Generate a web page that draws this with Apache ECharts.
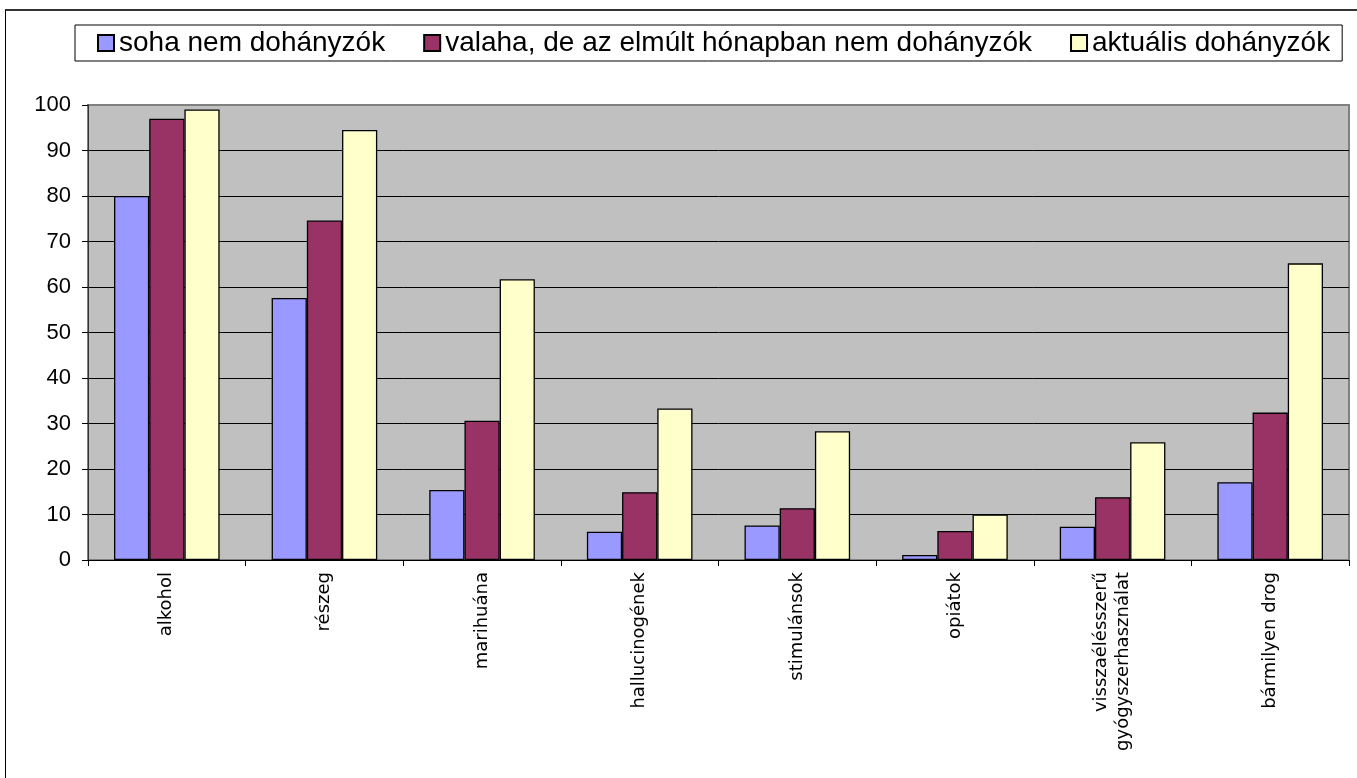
<!DOCTYPE html>
<html>
<head>
<meta charset="utf-8">
<script src="https://cdn.jsdelivr.net/npm/echarts@6/dist/echarts.min.js"></script>
<style>
  body { margin: 0; background: #fff; }
  .chart-wrap { position: relative; width: 1357px; height: 778px; }
  #chart { width: 1357px; height: 778px; }
  .frame {
    position: absolute; left: 5px; top: 9px; right: 0; bottom: 0;
    border-top: 2px solid #333; border-left: 1px solid #000;
    pointer-events: none;
  }
</style>
</head>
<body>
<div class="chart-wrap">
  <div id="chart"></div>
  <div class="frame"></div>
</div>
<script>
// categories and values
var categories = ['alkohol', 'részeg', 'marihuána', 'hallucinogének', 'stimulánsok', 'opiátok', 'visszaélésszerű\ngyógyszerhasználat', 'bármilyen drog']
var seriesNames = ['soha nem dohányzók', 'valaha, de az elmúlt hónapban nem dohányzók', 'aktuális dohányzók']
var neverSmoked = [80, 57.6, 15.4, 6.2, 7.6, 1.1, 7.3, 17.1]
var formerSmoked = [97, 74.6, 30.6, 14.9, 11.4, 6.4, 13.8, 32.4]
var currentSmokers = [99, 94.5, 61.7, 33.3, 28.3, 10, 25.9, 65.2]
var yTicks = [0, 10, 20, 30, 40, 50, 60, 70, 80, 90, 100]

var colors = ['#9999FF', '#993366', '#FFFFCC']

var options = {
  animation: false,
  color: colors,
  legend: {
    left: 75,
    top: 25,
    padding: [4, 12, 4, 22],
    borderColor: '#000',
    borderWidth: 1,
    itemWidth: 16,
    itemHeight: 16,
    itemGap: 38,
    icon: 'rect',
    textStyle: {
      color: '#000',
      fontSize: 28,
      fontFamily: 'Liberation Sans'
    },
    data: seriesNames
  },
  grid: {
    left: 88,
    right: 8,
    top: 105,
    bottom: 218,
    show: true,
    backgroundColor: '#C0C0C0',
    borderColor: '#808080',
    borderWidth: 2
  },
  xAxis: {
    type: 'category',
    data: categories,
    axisLine: {
      lineStyle: { color: '#000', width: 1 }
    },
    axisTick: {
      show: true,
      length: 6,
      lineStyle: { color: '#000' }
    },
    axisLabel: {
      rotate: 90,
      margin: 12,
      interval: 0,
      color: '#000',
      fontSize: 18,
      lineHeight: 22,
      fontFamily: 'DejaVu Sans'
    }
  },
  yAxis: {
    type: 'value',
    min: yTicks[0],
    max: yTicks[yTicks.length - 1],
    interval: 10,
    axisLine: {
      show: true,
      lineStyle: { color: '#333' }
    },
    axisTick: {
      show: true,
      length: 6,
      lineStyle: { color: '#000' }
    },
    axisLabel: {
      margin: 17,
      color: '#000',
      fontSize: 22,
      fontFamily: 'Liberation Sans'
    },
    splitLine: {
      showMinLine: false,
      showMaxLine: false,
      lineStyle: { color: '#000', width: 1 }
    }
  }
}

function makeBar (name, values) {
  return {
    name: name,
    type: 'bar',
    data: values,
    barGap: '0%',
    barCategoryGap: '33%',
    itemStyle: {
      borderColor: '#000',
      borderWidth: 1.3
    }
  }
}

var myChart = echarts.init(document.getElementById('chart'))
options.series = [
  makeBar(seriesNames[0], neverSmoked),
  makeBar(seriesNames[1], formerSmoked),
  makeBar(seriesNames[2], currentSmokers)
]
myChart.setOption(options)
</script>
</body>
</html>
